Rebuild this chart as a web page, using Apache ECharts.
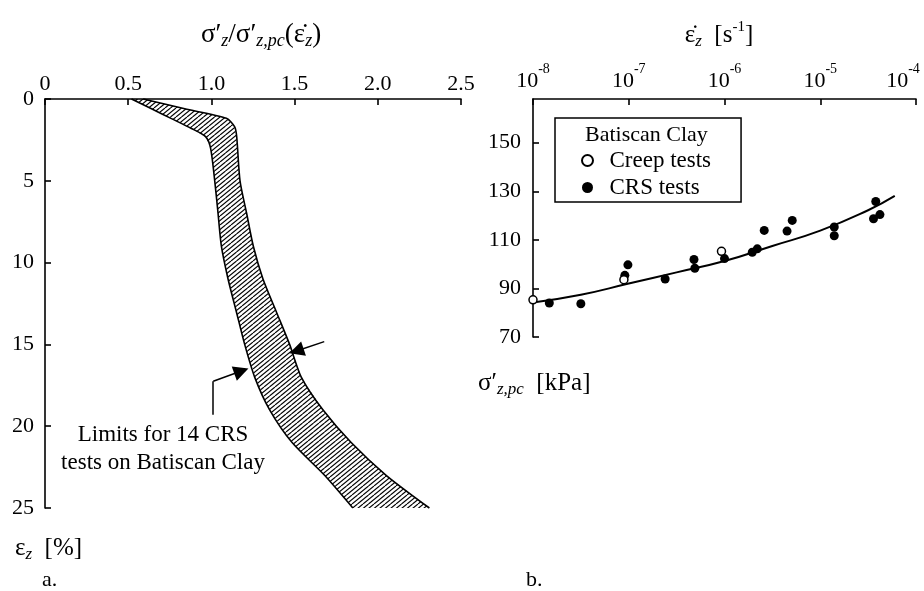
<!DOCTYPE html>
<html><head><meta charset="utf-8">
<script src="https://cdn.jsdelivr.net/npm/echarts@6/dist/echarts.min.js"></script>
<style>html,body{margin:0;padding:0;background:#fff}#c{width:924px;height:591px}</style>
</head><body><div id="c"></div>
<script>
// ---- Panel a: limits of normalized stress vs strain (14 CRS tests) ----
const lowDepth  = [0, 0.6, 1.2, 1.8, 2.3, 3.0, 5, 7, 9, 11, 13, 15, 17, 19, 21, 23, 25];
const lowRatio  = [0.52, 0.64, 0.76, 0.88, 0.965, 0.995, 1.02, 1.04, 1.06, 1.10, 1.15, 1.20, 1.26, 1.35, 1.485, 1.68, 1.85];
const highDepth = [0, 0.6, 1.18, 1.7, 2.3, 5, 7, 9, 11, 13, 15, 17, 19, 21, 23, 25];
const highRatio = [0.59, 0.84, 1.09, 1.14, 1.152, 1.172, 1.212, 1.252, 1.31, 1.39, 1.47, 1.54, 1.67, 1.84, 2.05, 2.31];
// annotation leader + arrows (data coordinates)
const leaderLow = [[1.011, 19.3], [1.011, 17.25]];
const arrowLow  = [[1.011, 17.25], [1.180, 16.63]];
const arrowHigh = [[1.678, 14.83], [1.511, 15.40]];

// ---- Panel b: preconsolidation stress vs strain rate ----
const rateMin = 1e-8, rateMax = 1e-4;
const creepRate  = [1e-8, 8.9e-8, 9.3e-7];
const creepSigma = [85.3, 93.6, 105.3];
const crsRate  = [1.48e-8, 3.16e-8, 9.1e-8, 9.8e-8, 2.4e-7, 4.8e-7, 4.9e-7, 1.0e-6, 1.95e-6, 2.2e-6, 2.6e-6, 4.5e-6, 5.1e-6, 1.4e-5, 1.4e-5, 3.8e-5, 3.6e-5, 4.2e-5];
const crsSigma = [84.0, 83.7, 95.4, 99.7, 93.9, 101.9, 98.3, 102.3, 104.9, 106.3, 113.9, 113.6, 118.0, 115.3, 111.7, 125.8, 118.7, 120.4];
const fitRate  = [1e-8, 3.16e-8, 1e-7, 3.16e-7, 1e-6, 3.16e-6, 1e-5, 3.16e-5, 6.0e-5];
const fitSigma = [84.2, 87.4, 92.0, 96.6, 101.3, 107.5, 113.8, 122.2, 128.1];

const FONT = 'Liberation Serif';
const BLACK = '#000';

// hatch pattern
const hatch = document.createElement('canvas');
hatch.width = 11; hatch.height = 9;
(function(){
  const g = hatch.getContext('2d');
  g.strokeStyle = '#000'; g.lineWidth = 1.15;
  for (let k = 0; k < 5; k++) {
    const x0 = -11 + k * 5.5;
    g.beginPath(); g.moveTo(x0, 9); g.lineTo(x0 + 11, 0); g.stroke();
  }
})();

const chart = echarts.init(document.getElementById('c'), null, {renderer: 'canvas'});

const axisLineStyle = {show: true, lineStyle: {color: BLACK, width: 1.6}};
const tickStyle = {show: true, inside: true, length: 6, lineStyle: {color: BLACK, width: 1.6}};
const lblStyle = {color: BLACK, fontFamily: FONT, fontSize: 22};

const main = {fontFamily: FONT, fontSize: 25, fontWeight: 'normal', color: BLACK, lineHeight: 30, verticalAlign: 'middle'};
const mainL = Object.assign({}, main, {fontSize: 27});
const sub = {fontFamily: FONT, fontSize: 17, fontWeight: 'normal', fontStyle: 'italic', color: BLACK, lineHeight: 16, verticalAlign: 'bottom'};
const subL = Object.assign({}, sub, {fontSize: 18});
const sup = {fontFamily: FONT, fontSize: 15, fontWeight: 'normal', color: BLACK, lineHeight: 14, verticalAlign: 'top'};
const plain = {fontFamily: FONT, fontSize: 23, fontWeight: 'normal', color: BLACK};

const supTick = {fontFamily: FONT, fontSize: 14, color: BLACK, lineHeight: 14, verticalAlign: 'top'};

const option = {
  animation: false,
  backgroundColor: '#fff',
  title: [
    {text: '{a|σ′}{s|z}{a|/σ′}{s|z,pc}{a|(ε̇}{s|z}{a|)}', left: 261, top: 20, textAlign: 'center', padding: 0,
     textStyle: Object.assign({rich: {a: mainL, s: subL}}, plain)},
    {text: '{a|ε̇}{s|z}{a|  [s}{p|-1}{a|]}', left: 719, top: 20, textAlign: 'center', padding: 0,
     textStyle: Object.assign({rich: {a: main, s: sub, p: sup}}, plain)},
    {text: '{a|ε}{s|z}{a|  [%]}', left: 15, top: 533, padding: 0, textStyle: Object.assign({rich: {a: main, s: sub}}, plain)},
    {text: '{a|σ′}{s|z,pc}{a|  [kPa]}', left: 478, top: 368, padding: 0, textStyle: Object.assign({rich: {a: main, s: sub}}, plain)},
    {text: 'a.', left: 42, top: 569, padding: 0, textStyle: Object.assign({}, plain, {fontSize: 22})},
    {text: 'b.', left: 526, top: 569, padding: 0, textStyle: Object.assign({}, plain, {fontSize: 22})},
    {text: 'Limits for 14 CRS\ntests on Batiscan Clay', left: 163, top: 421, textAlign: 'center', padding: 0,
     textStyle: Object.assign({lineHeight: 28}, plain)},
    {text: 'Batiscan Clay', left: 585, top: 124, padding: 0,
     textStyle: Object.assign({}, plain, {fontSize: 22})}
  ],
  legend: {
    data: ['Creep tests', 'CRS tests'], orient: 'vertical', left: 555, top: 118,
    padding: [31, 30, 3, 26], itemGap: 4, itemWidth: 34, itemHeight: 11,
    borderColor: BLACK, borderWidth: 1.5,
    textStyle: {fontFamily: FONT, fontSize: 23, color: BLACK}
  },
  grid: [
    {left: 45, top: 99, width: 416, height: 409, outerBoundsMode: 'none', containLabel: false},
    {left: 533, top: 99, width: 383, height: 238, outerBoundsMode: 'none', containLabel: false}
  ],
  xAxis: [
    {gridIndex: 0, type: 'value', position: 'top', min: 0, max: 2.5, interval: 0.5,
     axisLine: axisLineStyle, axisTick: tickStyle, splitLine: {show: false},
     axisLabel: Object.assign({margin: 4, formatter: v => v === 0 ? '0' : v.toFixed(1)}, lblStyle)},
    {gridIndex: 1, type: 'log', logBase: 10, position: 'top', min: rateMin, max: rateMax,
     axisLine: axisLineStyle, axisTick: tickStyle, splitLine: {show: false}, minorTick: {show: false},
     axisLabel: {margin: 7,
       formatter: v => '{b|10}{' + (v >= rateMax * 0.999 ? 'eLast' : 'e') + '|' + Math.round(Math.log10(v)) + '}',
       rich: {b: {fontFamily: FONT, fontSize: 22, color: BLACK, lineHeight: 30, verticalAlign: 'bottom'},
              e: supTick,
              eLast: Object.assign({}, supTick, {padding: [0, 26, 0, 0]})}}}
  ],
  yAxis: [
    {gridIndex: 0, type: 'value', inverse: true, min: 0, max: 25, interval: 5,
     axisLine: axisLineStyle, axisTick: tickStyle, splitLine: {show: false},
     axisLabel: Object.assign({margin: 11}, lblStyle)},
    {gridIndex: 1, type: 'value', min: 70, max: 168, interval: 20,
     axisLine: axisLineStyle, axisTick: tickStyle, splitLine: {show: false},
     axisLabel: Object.assign({margin: 12, showMaxLabel: false}, lblStyle)}
  ],
  series: [
    {
      type: 'custom', name: 'band', xAxisIndex: 0, yAxisIndex: 0, data: [[0, 0]], silent: true,
      renderItem: function (params, api) {
        const lowPts = lowDepth.map((d, i) => api.coord([lowRatio[i], d]));
        const highPts = highDepth.map((d, i) => api.coord([highRatio[i], d]));
        const poly = lowPts.concat(highPts.slice().reverse());
        return {type: 'group', children: [
          {type: 'polygon', shape: {points: poly, smooth: 0}, style: {fill: {image: hatch, repeat: 'repeat'}, stroke: null}},
          {type: 'polyline', shape: {points: lowPts, smooth: 0.25}, style: {stroke: BLACK, lineWidth: 1.6, fill: null}},
          {type: 'polyline', shape: {points: highPts, smooth: 0.25}, style: {stroke: BLACK, lineWidth: 1.6, fill: null}}
        ]};
      }
    },
    {
      type: 'lines', name: 'leader', coordinateSystem: 'cartesian2d', xAxisIndex: 0, yAxisIndex: 0,
      silent: true, symbol: ['none', 'none'],
      lineStyle: {color: BLACK, width: 1.5, opacity: 1},
      data: [{coords: leaderLow}]
    },
    {
      type: 'lines', name: 'arrows', coordinateSystem: 'cartesian2d', xAxisIndex: 0, yAxisIndex: 0,
      silent: true, symbol: ['none', 'path://M5,0 L10,22 L0,22 Z'], symbolSize: [9, 15],
      lineStyle: {color: BLACK, width: 1.5, opacity: 1},
      itemStyle: {color: BLACK},
      data: [{coords: arrowLow}, {coords: arrowHigh}]
    },
    {
      type: 'line', name: 'fit', xAxisIndex: 1, yAxisIndex: 1, smooth: true, showSymbol: false, symbol: 'none',
      lineStyle: {color: BLACK, width: 2}, data: fitRate.map((r, i) => [r, fitSigma[i]]), z: 2
    },
    {
      type: 'scatter', name: 'Creep tests', xAxisIndex: 1, yAxisIndex: 1, symbol: 'circle', symbolSize: 8,
      itemStyle: {color: '#fff', borderColor: BLACK, borderWidth: 1.5, opacity: 1},
      data: creepRate.map((r, i) => [r, creepSigma[i]]), z: 4
    },
    {
      type: 'scatter', name: 'CRS tests', xAxisIndex: 1, yAxisIndex: 1, symbol: 'circle', symbolSize: 9,
      itemStyle: {color: BLACK, opacity: 1},
      data: crsRate.map((r, i) => [r, crsSigma[i]]), z: 3
    }
  ]
};
chart.setOption(option);
</script>
</body></html>
